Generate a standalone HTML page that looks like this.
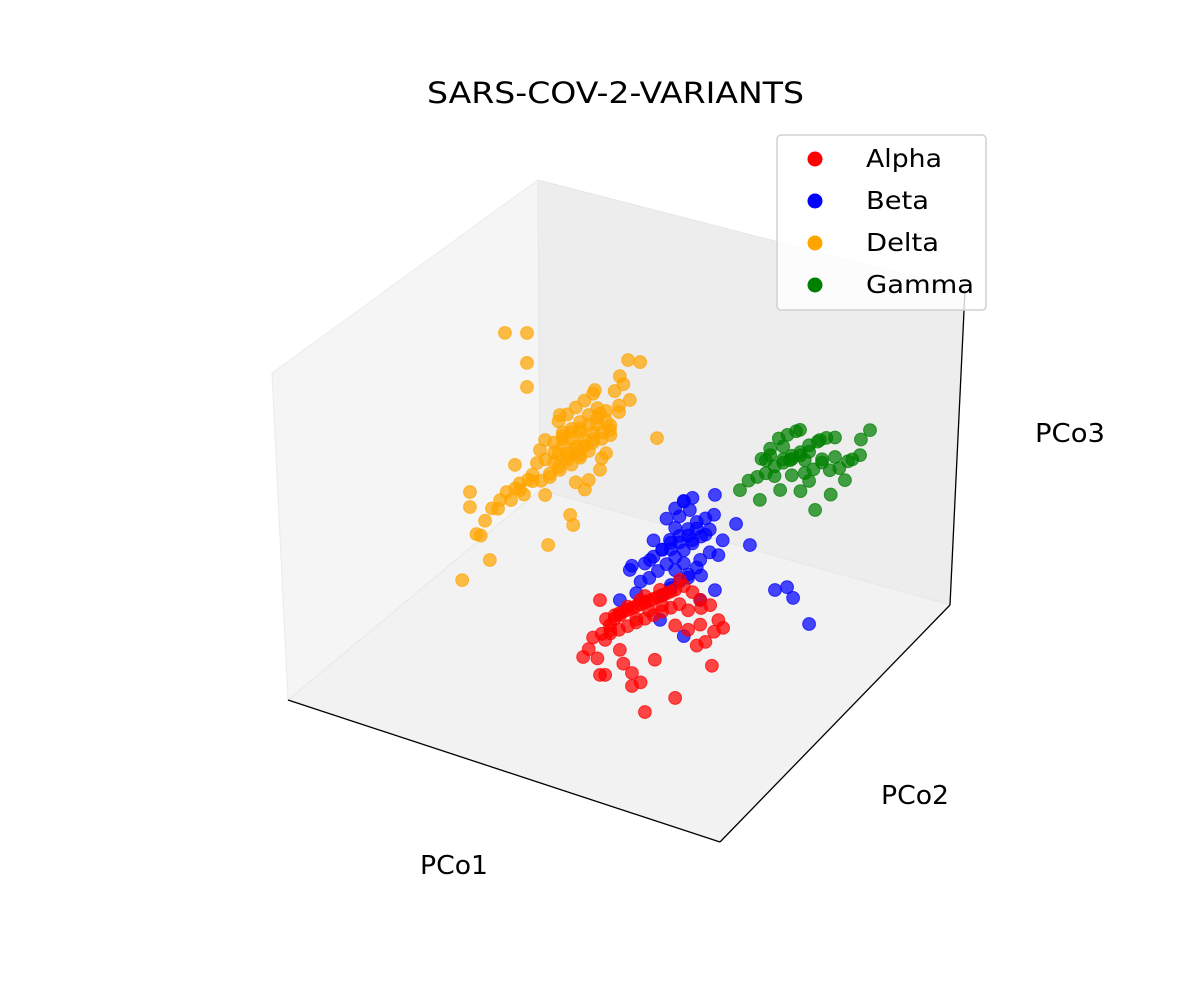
<!DOCTYPE html>
<html><head><meta charset="utf-8"><style>
body{margin:0;background:#fff;font-family:"Liberation Sans","DejaVu Sans",sans-serif}
svg text{font-family:"DejaVu Sans","Liberation Sans",sans-serif}
</style></head><body>
<svg id="chart" width="1200" height="1000" viewBox="0 0 1200 1000">
<rect width="1200" height="1000" fill="#fff"/>
<text x="427" y="103" font-size="29" textLength="377" lengthAdjust="spacingAndGlyphs">SARS-COV-2-VARIANTS</text>
<polygon points="272,373 538,180 540,490 288,700" fill="#f5f5f5" stroke="#ebebeb"/>
<polygon points="538,180 965,290 950,605 540,490" fill="#ededed" stroke="#e6e6e6"/>
<polygon points="288,700 720,842 950,605 540,490" fill="#f2f2f2" stroke="#e8e8e8"/>
<g id="points"></g>
<line x1="288" y1="700" x2="720" y2="842" stroke="#000" stroke-width="1.3"/>
<line x1="720" y1="842" x2="950" y2="605" stroke="#000" stroke-width="1.3"/>
<line x1="950" y1="605" x2="965" y2="290" stroke="#000" stroke-width="1.3"/>
<text x="420" y="874" font-size="26" textLength="68" lengthAdjust="spacingAndGlyphs">PCo1</text>
<text x="881" y="804" font-size="26" textLength="68" lengthAdjust="spacingAndGlyphs">PCo2</text>
<text x="1035" y="442" font-size="26" textLength="70" lengthAdjust="spacingAndGlyphs">PCo3</text>
<g>
<rect x="777" y="135" width="209" height="175" rx="4" fill="#fff" fill-opacity="0.8" stroke="#d0d0d0" stroke-width="1.5"/>
<circle cx="815" cy="159" r="7.5" fill="red"/>
<text x="866" y="167" font-size="25" textLength="76" lengthAdjust="spacingAndGlyphs">Alpha</text>
<circle cx="815" cy="201" r="7.5" fill="blue"/>
<text x="866" y="209" font-size="25" textLength="63" lengthAdjust="spacingAndGlyphs">Beta</text>
<circle cx="815" cy="243" r="7.5" fill="orange"/>
<text x="866" y="251" font-size="25" textLength="73" lengthAdjust="spacingAndGlyphs">Delta</text>
<circle cx="815" cy="285" r="7.5" fill="green"/>
<text x="866" y="293" font-size="25" textLength="108" lengthAdjust="spacingAndGlyphs">Gamma</text>
</g>
</svg>
<script>
const deltaX=[13.7,15.5,15.5,20.6,20.1,22.5,25.9,27.1,31.7,32.9,32.9,33.6,36.3,36.3,38.7,39.4,41,42.1,44.4,45.6,45.6,47.9,50.2,52.1,52.5,54.9,58.8,23.6,28.7,28.7,28.7,38,40,42,44,46,37,35,43,48,40,34,30,18,24,50,47,39,41,36,
33,35,37,39,41,43,45,47,34,36,38,40,42,44,46,48,35,37,39,41,43,45,36,38,40,42,44,31,30,29,27,26,49,51,50,46,32,28,25,22,19,17,
38,40,42,44,39,41,43,37,45,47];
const deltaZ=[6.4,34.3,29.7,31.5,15.4,34.9,47.2,40,54.3,57.9,41,25.9,50.2,67.1,37.4,34.6,56.8,46.7,78.3,71.6,54.3,67.5,85.1,90.9,78.8,91.5,69.8,86.8,89,79.8,72.4,55,58,60,62,64,60,52,50,66,48,47,44,22,38,74,60,63,65,55,
52,55,58,61,64,67,70,73,48,51,54,57,60,63,66,69,58,61,64,67,70,73,65,68,71,74,77,50,46,44,42,40,80,83,76,58,45,39,36,32,27,22,
56,59,62,65,53,56,59,62,68,70];
const deltaY=deltaX.map(()=>50);
const gammaX=[89.6,78,108.1,98.8,91.9,82.6,95.4,102.3,105.8,87.3,96.5,90,93,86,84,92,97,100,88,94,80,99,103,85,
82,84,86,88,90,92,94,96,98,100,87,89,91,93,95,97,83,85,101,104,106,88,90,92,94];
const gammaZ=[76.5,62.2,93.8,77.4,86.8,61.2,63.7,75.9,85.1,66.3,85.7,72,78,70,74,68,80,82,80,72,66,70,82,78,
68,70,73,76,78,80,83,85,87,88,82,84,86,74,76,79,74,76,79,83,90,75,77,79,81];
const gammaY=gammaX.map(()=>50);
const betaX=[61.8,68.8,57.2,66.4,72.2,52.5,50.2,68.8,65,77.1,80.3,86.1,88.9,90.3,94,65,59.5,72.2,60,63,66,70,55,62,67,64,58,69,71,
56,58,60,62,64,66,68,70,72,57,59,61,63,65,67,69,71,60,62,64,66,68,54,53,61,63,65,67,73,74,62,64,66,68,63,65];
const betaZ=[39.8,36.7,31.6,51,58.2,26.5,16.2,24.4,53.2,51.4,46.3,35,37.1,34.4,28,11.6,14.2,28.9,36,44,30,45,24,26,42,48,38,32,40,
30,33,36,39,42,45,48,50,52,26,29,32,35,38,41,44,47,22,25,28,31,34,20,28,46,50,53,55,40,45,37,40,43,46,31,34];
const betaY=betaX.map(()=>50);
const alphaX=[50.2,59.5,68.8,46.8,56,63,41.7,45.6,71.5,53,46.8,74.1,68.8,64.1,54.9,45.6,47.9,58.3,50.2,71.1,52,56,60,49,62,66,54,57,48,63,
47,49,51,53,55,57,59,61,63,65,67,69,48,50,52,54,56,58,60,62,64,46,44,43,45,66,68,70,72,73,51,53,55,50,52,54,56,58,60];
const alphaZ=[11.6,23.4,16.8,2.5,-15.7,-8.3,-5,-8.8,5.3,-9,-8.3,18.1,24.4,28.5,18.3,14.2,7.5,1.4,0.9,23.8,15,20,19,10,24,20,12,16,6,14,
9,11,13,15,17,19,21,23,25,27,26,22,5,7,9,11,13,15,17,19,21,4,2,-2,-4,14,10,12,16,20,-3,-5,-7,12,14,16,18,20,22];
const alphaY=alphaX.map(()=>50);
function px(x,y,z){return 288+4.32*x+2.3*y;}
function py(x,y,z){return 700+1.42*x-2.37*y-3.25*z;}
const g=document.getElementById('points');
function draw(xs,ys,zs,color,name){
  for(let i=0;i<xs.length;i++){
    const c=document.createElementNS('http://www.w3.org/2000/svg','circle');
    c.setAttribute('cx',px(xs[i],ys[i],zs[i]));
    c.setAttribute('cy',py(xs[i],ys[i],zs[i]));
    c.setAttribute('r',6.4);
    c.setAttribute('fill',color);
    c.setAttribute('fill-opacity',0.72);
    c.setAttribute('stroke',color);
    c.setAttribute('stroke-opacity',0.72);
    c.setAttribute('stroke-width',1);
    
    
    g.appendChild(c);
  }
}
draw(deltaX,deltaY,deltaZ,'orange','delta-point');
draw(gammaX,gammaY,gammaZ,'green','gamma-point');
draw(betaX,betaY,betaZ,'blue','beta-point');
draw(alphaX,alphaY,alphaZ,'red','alpha-point');
</script>
</body></html>
